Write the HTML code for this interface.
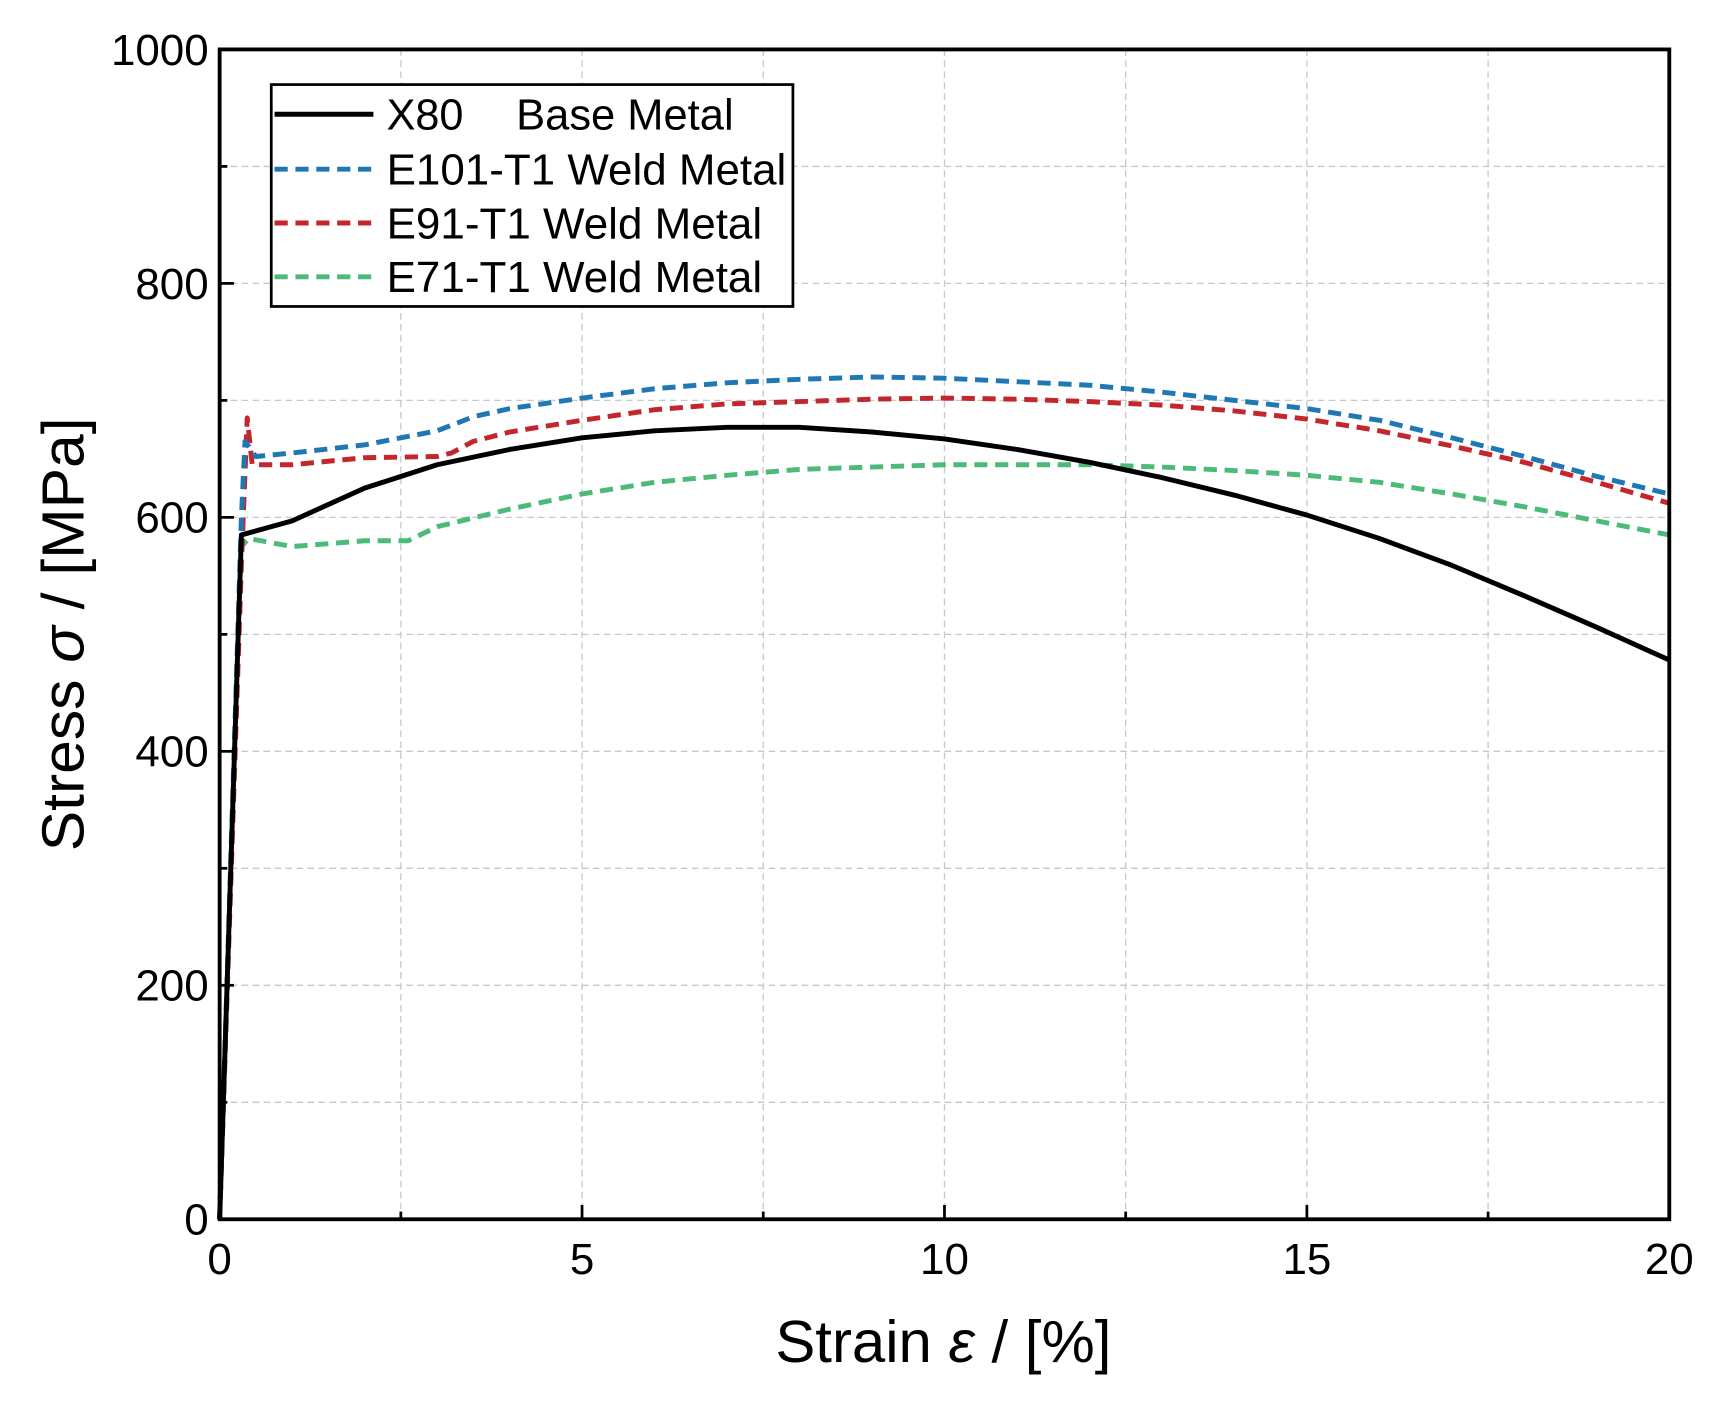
<!DOCTYPE html>
<html><head><style>body{margin:0;background:#fff}svg{display:block}text{font-family:"Liberation Sans",sans-serif;fill:#000}</style></head>
<body>
<svg id="s" width="1722" height="1406" viewBox="0 0 1568 1280" preserveAspectRatio="none" xmlns="http://www.w3.org/2000/svg">
<rect width="1568" height="1280" fill="#fff"/>
<g id="grid" stroke="#c8c8c8" stroke-width="1.2" stroke-dasharray="6,4"></g>
<g id="curves" fill="none" stroke-width="4.5" stroke-linejoin="round"></g>
<rect x="200" y="45" width="1320" height="1065" fill="none" stroke="#000" stroke-width="3.5"/>
<g id="ticks" stroke="#000" stroke-width="2.5"></g>
<g font-size="40" text-anchor="end">
<text x="190" y="1124">0</text><text x="190" y="911">200</text><text x="190" y="698">400</text><text x="190" y="485">600</text><text x="190" y="272">800</text><text x="190" y="59">1000</text>
</g>
<g font-size="40" text-anchor="middle">
<text x="200" y="1160">0</text><text x="530" y="1160">5</text><text x="860" y="1160">10</text><text x="1190" y="1160">15</text><text x="1520" y="1160">20</text>
</g>
<text x="706" y="1240" font-size="54" textLength="306" lengthAdjust="spacingAndGlyphs">Strain <tspan font-style="italic">ε</tspan> / [%]</text>
<text transform="translate(76,775) rotate(-90)" font-size="54" textLength="395" lengthAdjust="spacingAndGlyphs">Stress <tspan font-style="italic">σ</tspan> / [MPa]</text>
<rect x="247" y="77" width="475" height="202" fill="#fff" stroke="#000" stroke-width="2.5"/>
<g stroke-width="4.5">
<line x1="250" y1="104" x2="340" y2="104" stroke="#000"/>
<line x1="250" y1="154" x2="340" y2="154" stroke="#1f77b4" stroke-dasharray="12,7"/>
<line x1="250" y1="203" x2="340" y2="203" stroke="#c4262e" stroke-dasharray="12,7"/>
<line x1="250" y1="252" x2="340" y2="252" stroke="#4cbb7a" stroke-dasharray="12,7"/>
</g>
<g font-size="40">
<text x="352" y="118" textLength="70" lengthAdjust="spacingAndGlyphs">X80</text><text x="470" y="118" textLength="198" lengthAdjust="spacingAndGlyphs">Base Metal</text>
<text x="352" y="168" textLength="364" lengthAdjust="spacingAndGlyphs">E101-T1 Weld Metal</text>
<text x="352" y="217" textLength="342" lengthAdjust="spacingAndGlyphs">E91-T1 Weld Metal</text>
<text x="352" y="266" textLength="342" lengthAdjust="spacingAndGlyphs">E71-T1 Weld Metal</text>
</g>
</svg>
<script>
var NS="http://www.w3.org/2000/svg";
function X(e){return 200+66*e}function Y(s){return 1110-1.065*s}
function el(p,t,a){var e=document.createElementNS(NS,t);for(var k in a)e.setAttribute(k,a[k]);p.appendChild(e);return e}
var g=document.getElementById('grid');
for(var i=1;i<8;i++)el(g,'line',{x1:X(i*2.5),x2:X(i*2.5),y1:45,y2:1110});
for(var j=1;j<10;j++)el(g,'line',{x1:200,x2:1520,y1:Y(j*100),y2:Y(j*100)});
var t=document.getElementById('ticks');
for(var i=0;i<=8;i++){var L=i%2?7:13;el(t,'line',{x1:X(i*2.5),x2:X(i*2.5),y1:1110,y2:1110-L})}
for(var j=0;j<=10;j++){var L=j%2?7:13;el(t,'line',{x1:200,x2:200+L,y1:Y(j*100),y2:Y(j*100)})}
var D={
k:[[0,0],[0.3,585],[1,597],[2,625],[3,645],[4,658],[5,668],[6,674],[7,677],[8,677],[9,673],[10,667],[11,658],[12,647],[13,634],[14,619],[15,602],[16,582],[17,559],[18,533],[19,506],[20,478]],
b:[[0,0],[0.3,600],[0.35,665],[0.5,652],[1,655],[2,662],[2.5,668],[3,674],[3.5,686],[4,693],[5,702],[6,710],[7,715],[8,718],[9,720],[10,719],[11,716],[12,713],[13,707],[14,700],[15,693],[16,683],[17,668],[18,652],[19,635],[20,620]],
r:[[0,0],[0.3,560],[0.38,685],[0.45,645],[1,645],[2,651],[3,652],[3.2,655],[3.5,665],[4,673],[5,683],[6,692],[7,697],[8,699],[9,701],[10,702],[11,701],[12,699],[13,696],[14,691],[15,684],[16,674],[17,661],[18,647],[19,630],[20,612]],
g:[[0,0],[0.3,575],[0.4,582],[1,575],[2,580],[2.6,580],[3,592],[4,607],[5,620],[6,630],[7,636],[8,641],[9,643],[10,645],[11,645],[12,645],[13,643],[14,640],[15,636],[16,630],[17,620],[18,609],[19,597],[20,585]]};
var C={k:'#000',b:'#1f77b4',r:'#c4262e',g:'#4cbb7a'};
var cg=document.getElementById('curves');
['g','r','b','k'].forEach(function(k){
var pts=D[k].map(function(p){return X(p[0]).toFixed(1)+','+Y(p[1]).toFixed(1)}).join(' ');
var a={points:pts,stroke:C[k]};if(k!='k')a['stroke-dasharray']='12,7';
el(cg,'polyline',a);});
</script>
</body></html>
